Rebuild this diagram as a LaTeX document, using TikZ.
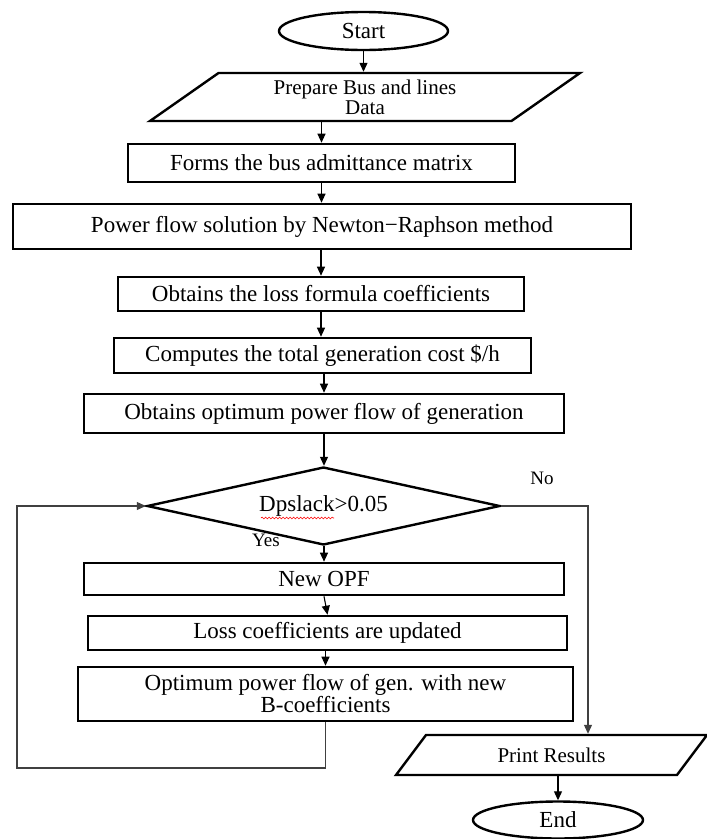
\documentclass[tikz,border=0pt]{standalone}
\usepackage{fontspec}
\setmainfont{Liberation Serif}
\usetikzlibrary{shapes.geometric,arrows.meta,decorations.pathmorphing}

\begin{document}
\begin{tikzpicture}[x=1pt,y=-1pt,
  every node/.style={font=\fontsize{23}{22}\selectfont},
  term/.style={draw,ellipse,line width=2.4pt,minimum width=169pt,minimum height=38pt,inner sep=1pt},
  iobox/.style={draw,trapezium,trapezium stretches body,line width=2.4pt,align=center,inner sep=2pt},
  procbox/.style={draw,rectangle,line width=2.6pt,align=center,inner sep=2pt},
  decide/.style={draw,diamond,aspect=4.5,line width=2.4pt,minimum width=353pt,minimum height=78pt,inner sep=0pt},
  answer/.style={font=\fontsize{19}{19}\selectfont,inner sep=0pt},
  flow/.style={line width=1.1pt,-{Triangle[length=9pt,width=8pt]}},
  loopline/.style={line width=1.1pt,draw=black!75}]
\useasboundingbox (0,0) rectangle (707,839);
\draw (363.5,31) node[term](start) {Start};
\draw (365,97) node[iobox,font=\fontsize{21}{20}\selectfont,trapezium left angle=29.5,trapezium right angle=150.5,minimum width=430pt,minimum height=48pt](prep) {Prepare Bus and lines\\Data};
\draw (321.5,163) node[procbox,minimum width=387pt,minimum height=38pt](forms) {Forms the bus admittance matrix};
\draw (322,226.5) node[procbox,minimum width=618pt,minimum height=45pt](power) {Power flow solution by Newton\textminus Raphson method};
\draw (321,294) node[procbox,minimum width=406pt,minimum height=34pt](loss) {Obtains the loss formula coefficients};
\draw (322.5,355.5) node[procbox,minimum width=417pt,minimum height=35pt](cost) {Computes the total generation cost \$/h};
\draw (324,413.5) node[procbox,minimum width=480pt,minimum height=39pt](optim) {Obtains optimum power flow of generation};
\draw (323.5,506) node[decide](dec) {Dpslack>0.05};
\draw (324,579) node[procbox,minimum width=480pt,minimum height=32pt](newopf) {New OPF};
\draw (327.5,633) node[procbox,minimum width=479pt,minimum height=34pt](update) {Loss coefficients are updated};
\draw (325.5,694) node[procbox,minimum width=495pt,minimum height=54pt](newb) {Optimum power flow of gen. with new\\B-coefficients};
\draw (551.5,755) node[iobox,font=\fontsize{21}{20}\selectfont,trapezium left angle=32,trapezium right angle=148,minimum width=311pt,minimum height=40pt](print) {Print Results};
\draw (558,820) node[term,minimum width=170pt,minimum height=37pt](end) {End};
\draw (266,540) node[answer](yes) {Yes};
\draw (542,478) node[answer](no) {No};
\coordinate (loopcorner) at (17,768);
\coordinate (nocorner) at (588,506);
\draw[flow] (start.south) -- (prep.north -| start.south);
\draw[flow] (prep.south -| forms.north) -- (forms.north);
\draw[flow] (forms.south) -- (power.north -| forms.south);
\draw[flow] (power.south -| loss.north) -- (loss.north);
\draw[flow] (loss.south) -- (cost.north -| loss.south);
\draw[flow] (cost.south -| optim.north) -- (optim.north);
\draw[flow] (optim.south) -- (dec.north -| optim.south);
\draw[flow] (dec.south -| newopf.north) -- (newopf.north);
\draw[flow] (newopf.south) -- (update.north);
\draw[flow] (update.south -| newb.north) -- (newb.north);
\draw[flow,loopline] (newb.south) |- (loopcorner) |- (dec.west);
\draw[flow,loopline] (dec.east) -- (nocorner) -- (nocorner |- print.north);
\draw[flow] (print.south -| end.north) -- (end.north);
\draw[red,line width=0.6pt,decorate,decoration={snake,amplitude=0.9pt,segment length=3.5pt}] (261,518) -- (334,518);
\end{tikzpicture}
\end{document}
